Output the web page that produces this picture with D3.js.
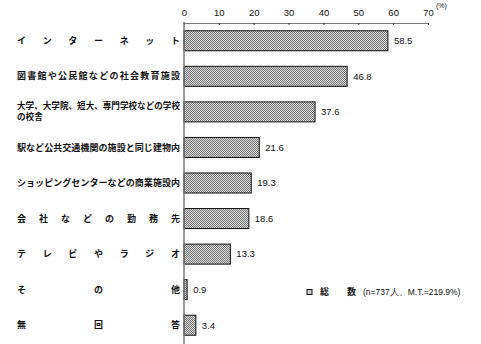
<!DOCTYPE html>
<html>
<head>
<meta charset="utf-8">
<script src="https://cdn.jsdelivr.net/npm/d3@7"></script>
<style>
  body { margin: 0; background: #fff; }
  svg { display: block; }
</style>
</head>
<body>
<div id="chart"></div>
<script>
// categories (top to bottom) and values in %
let categories = [
  'インターネット',
  '図書館や公民館などの社会教育施設',
  '大学、大学院、短大、専門学校などの学校|の校舎',
  '駅など公共交通機関の施設と同じ建物内',
  'ショッピングセンターなどの商業施設内',
  '会社などの勤務先',
  'テレビやラジオ',
  'その他',
  '無回答'
]
let values = [58.5, 46.8, 37.6, 21.6, 19.3, 18.6, 13.3, 0.9, 3.4]
let xTicks = [0, 10, 20, 30, 40, 50, 60, 70]
let legendName = '総　　数'
let legendNote = '(n=737人、M.T.=219.9%)'

let width = 481,
    height = 344,
    margin = { top: 23, right: 53, bottom: 1, left: 184 }

let svg = d3.select('#chart').append('svg')
    .attr('width', width)
    .attr('height', height)

// dotted grey fill like the original halftone
let defs = svg.append('defs')
let pat = defs.append('pattern')
    .attr('id', 'dots')
    .attr('width', 2).attr('height', 2)
    .attr('patternUnits', 'userSpaceOnUse')
pat.append('rect').attr('width', 2).attr('height', 2).attr('fill', '#dcdcdc')
pat.append('rect').attr('width', 1).attr('height', 1).attr('fill', '#777')
pat.append('rect').attr('x', 1).attr('y', 1).attr('width', 1).attr('height', 1).attr('fill', '#777')

let x = d3.scaleLinear()
    .domain([0, 70])
    .range([margin.left, width - margin.right])

let y = d3.scaleBand()
    .domain(categories)
    .range([margin.top, height - margin.bottom])
    .paddingInner(0.437)
    .paddingOuter(0.2185)

let numFont = '"Liberation Sans Narrow", "Arial Narrow", sans-serif'
let jpFont = '"Noto Sans CJK JP", sans-serif'

// top axis
let xAxis = g => g
    .attr('transform', `translate(0,${margin.top})`)
    .call(d3.axisTop(x).tickValues(xTicks).tickSize(-2).tickPadding(7))
    .call(g => g.select('.domain').attr('stroke', '#777').attr('stroke-width', 1.2))
    .call(g => g.selectAll('.tick line').attr('stroke', '#333'))
    .call(g => g.selectAll('.tick text')
        .attr('font-family', numFont)
        .attr('font-size', 9.5)
        .attr('fill', '#111'))

svg.append('g').call(xAxis)

svg.append('text')
    .attr('x', x(70) + 8)
    .attr('y', 8)
    .attr('font-family', numFont)
    .attr('font-size', 7)
    .attr('fill', '#111')
    .text('(%)')

// bars
svg.append('g').selectAll('rect')
    .data(values)
    .enter().append('rect')
    .attr('x', x(0))
    .attr('y', (d, i) => y(categories[i]))
    .attr('width', d => x(d) - x(0))
    .attr('height', y.bandwidth())
    .attr('fill', 'url(#dots)')
    .attr('stroke', '#111')
    .attr('stroke-width', 1)

// vertical axis line
svg.append('line')
    .attr('x1', x(0)).attr('x2', x(0))
    .attr('y1', margin.top - 1).attr('y2', height)
    .attr('stroke', '#777')
    .attr('stroke-width', 1.5)

// value labels
svg.append('g').selectAll('text')
    .data(values)
    .enter().append('text')
    .attr('x', d => x(d) + 6)
    .attr('y', (d, i) => y(categories[i]) + y.bandwidth() / 2)
    .attr('dy', '0.35em')
    .attr('font-family', numFont)
    .attr('font-size', 9.5)
    .attr('fill', '#111')
    .text(d => d.toFixed(1))

// category labels, characters spread between labelLeft and labelRight
let labelLeft = 17, labelRight = 180, fs = 9
let labels = svg.append('g')
    .attr('font-family', jpFont)
    .attr('font-weight', 'bold')
    .attr('fill', '#111')

categories.forEach(c => {
    let cy = y(c) + y.bandwidth() / 2
    let lines = c.split('|')
    let first = Array.from(lines[0])
    let size = Math.min(fs, (labelRight - labelLeft) / first.length)
    let y0 = lines.length > 1 ? cy - 5.5 : cy
    let step = (labelRight - labelLeft - size) / (first.length - 1)
    first.forEach((ch, i) => {
        labels.append('text')
            .attr('x', labelLeft + i * step)
            .attr('y', y0)
            .attr('dy', '0.35em')
            .attr('font-size', size)
            .text(ch)
    })
    if (lines.length > 1) {
        labels.append('text')
            .attr('x', labelLeft)
            .attr('y', cy + 5.5)
            .attr('dy', '0.35em')
            .attr('font-size', size)
            .text(lines[1])
    }
})

// legend
let ly = 292
svg.append('rect')
    .attr('x', 307).attr('y', ly - 2.5)
    .attr('width', 5).attr('height', 5)
    .attr('fill', '#ccc')
    .attr('stroke', '#111')
    .attr('stroke-width', 1)

svg.append('text')
    .attr('x', 320).attr('y', ly)
    .attr('dy', '0.35em')
    .attr('font-family', jpFont)
    .attr('font-size', fs)
    .attr('font-weight', 'bold')
    .attr('fill', '#111')
    .text(legendName)

svg.append('text')
    .attr('x', 363).attr('y', ly)
    .attr('dy', '0.35em')
    .attr('font-family', numFont)
    .attr('font-size', 8.5)
    .attr('fill', '#111')
    .text(legendNote)
</script>
</body>
</html>
